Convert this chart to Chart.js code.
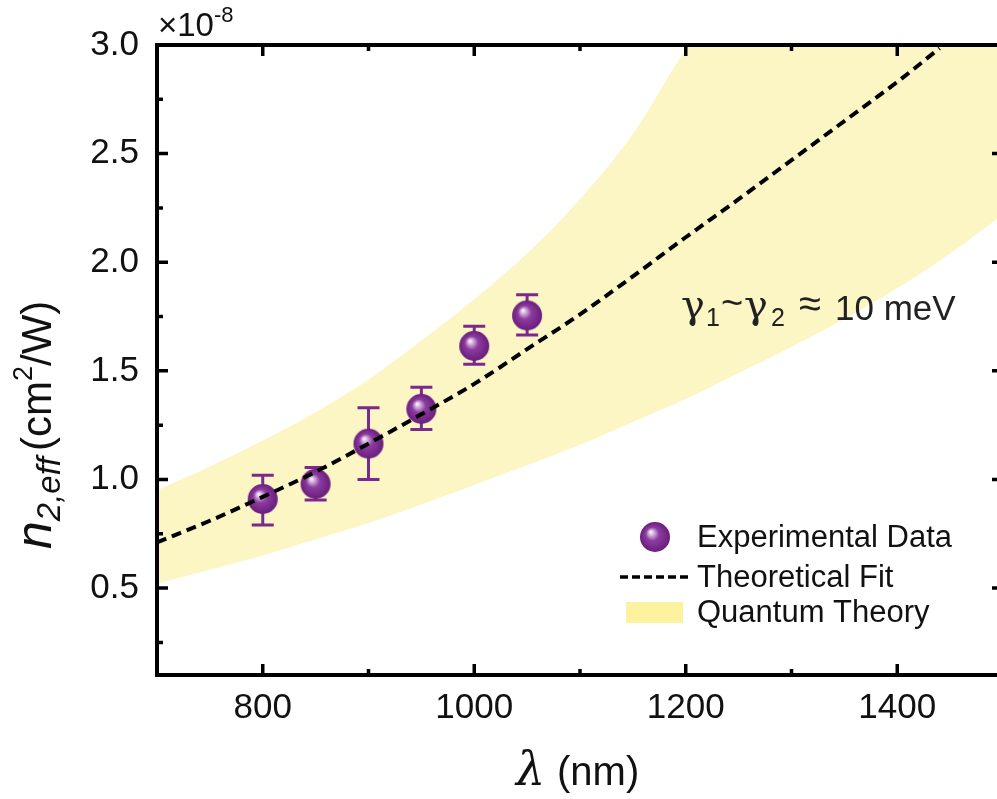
<!DOCTYPE html>
<html>
<head>
<meta charset="utf-8">
<script src="https://cdn.jsdelivr.net/npm/chart.js@4.4.1/dist/chart.umd.min.js"></script>
<style>
  html, body { margin: 0; padding: 0; background: #fff; overflow: hidden; }
  #wrap { width: 1019px; height: 799px; }
</style>
</head>
<body>
<div id="wrap"><canvas id="n2Chart" width="1019" height="799"></canvas></div>
<script>
// measured points
const wavelengths = [800, 850, 900, 950, 1000, 1050];
const n2Values = [0.91, 0.98, 1.165, 1.325, 1.615, 1.755];
const n2ErrLow = [0.79, 0.905, 1.0, 1.23, 1.53, 1.665];
const n2ErrHigh = [1.02, 1.055, 1.33, 1.425, 1.705, 1.85];

// theoretical fit
const fitX = [700, 750, 800, 850, 900, 950, 1000, 1050, 1100, 1150, 1200, 1250, 1300, 1350, 1400, 1440];
const fitY = [0.71, 0.81, 0.92, 1.035, 1.165, 1.30, 1.44, 1.60, 1.76, 1.935, 2.115, 2.29, 2.47, 2.65, 2.83, 2.985];

// quantum theory band
const bandX = [700, 750, 800, 850, 900, 950, 1000, 1050, 1100, 1150, 1200, 1250, 1300, 1350, 1400, 1450, 1500];
const bandUpper = [0.95, 1.06, 1.18, 1.31, 1.46, 1.64, 1.83, 2.04, 2.29, 2.59, 2.98, 3.3, 3.7, 4.1, 4.55, 5.0, 5.5];
const bandLower = [0.52, 0.585, 0.65, 0.725, 0.80, 0.885, 0.975, 1.065, 1.16, 1.265, 1.37, 1.49, 1.61, 1.74, 1.88, 2.04, 2.22];

const xTicks = [800, 1000, 1200, 1400];
const xMinorTicks = [900, 1100, 1300];
const yTicks = [0.5, 1.0, 1.5, 2.0, 2.5, 3.0];
const yMinorTicks = [0.25, 0.75, 1.25, 1.75, 2.25, 2.75];

const purple = '#7a2a8d';
const bandColor = '#fcf5c4';
const sans = '"Liberation Sans", Arial, sans-serif';
const serif = '"DejaVu Serif", "Liberation Serif", serif';

function makeBall(r) {
    const c = document.createElement('canvas');
    const s = r * 2 + 2;
    c.width = s; c.height = s;
    const g = c.getContext('2d');
    const cx = s / 2, cy = s / 2;
    const grad = g.createRadialGradient(cx - r * 0.3, cy - r * 0.35, 0, cx, cy, r);
    grad.addColorStop(0, '#ffffff');
    grad.addColorStop(0.15, '#dcbfe2');
    grad.addColorStop(0.45, '#8c3c9f');
    grad.addColorStop(1, '#6a1d7d');
    g.fillStyle = grad;
    g.beginPath();
    g.arc(cx, cy, r, 0, Math.PI * 2);
    g.fill();
    return c;
}
const ball = makeBall(15);
const legendBall = makeBall(15);

const toXY = (xs, ys) => xs.map((v, i) => ({ x: v, y: ys[i] }));

const errorBars = {
    id: 'errorBars',
    beforeDatasetDraw(chart, args) {
        if (args.index !== 1) return;
        const { ctx, scales: { x, y } } = chart;
        ctx.save();
        ctx.strokeStyle = purple;
        ctx.lineWidth = 3;
        wavelengths.forEach((w, i) => {
            const px = x.getPixelForValue(w);
            const top = y.getPixelForValue(n2ErrHigh[i]);
            const bot = y.getPixelForValue(n2ErrLow[i]);
            ctx.beginPath();
            ctx.moveTo(px, top); ctx.lineTo(px, bot);
            ctx.moveTo(px - 11, top); ctx.lineTo(px + 11, top);
            ctx.moveTo(px - 11, bot); ctx.lineTo(px + 11, bot);
            ctx.stroke();
        });
        ctx.restore();
    }
};

// text pieces placed one after another, or at a fixed x when given
function drawRuns(ctx, x, y, runs) {
    runs.forEach(r => {
        ctx.font = r.font;
        if (r.at !== undefined) x = r.at;
        x += r.pre || 0;
        ctx.fillText(r.t, x, y + (r.dy || 0));
        x += ctx.measureText(r.t).width;
    });
}

const frameAndText = {
    id: 'frameAndText',
    afterDatasetsDraw(chart) {
        const { ctx, chartArea: a, scales: { x, y } } = chart;
        ctx.save();
        ctx.strokeStyle = '#000';
        ctx.lineWidth = 4;
        ctx.strokeRect(a.left, a.top, a.right - a.left, a.bottom - a.top);

        ctx.lineWidth = 3.5;
        ctx.beginPath();
        const tx = (vals, len) => vals.forEach(v => {
            const px = x.getPixelForValue(v);
            ctx.moveTo(px, a.bottom); ctx.lineTo(px, a.bottom - len);
            ctx.moveTo(px, a.top); ctx.lineTo(px, a.top + len);
        });
        const ty = (vals, len) => vals.forEach(v => {
            const py = y.getPixelForValue(v);
            ctx.moveTo(a.left, py); ctx.lineTo(a.left + len, py);
            ctx.moveTo(a.right, py); ctx.lineTo(a.right - len, py);
        });
        tx(xTicks, 11); tx(xMinorTicks, 6);
        ty(yTicks, 11); ty(yMinorTicks, 6);
        ctx.stroke();
        ctx.restore();
    },
    afterDraw(chart) {
        const { ctx } = chart;
        ctx.save();
        ctx.fillStyle = '#111';
        ctx.textBaseline = 'alphabetic';
        ctx.textAlign = 'left';

        // exponent
        drawRuns(ctx, 158, 36, [
            { t: '\u00d710', font: '33px ' + sans },
            { t: '-8', font: '22px ' + sans, dy: -14 }
        ]);

        // x title
        drawRuns(ctx, 516, 785, [
            { t: '\u03bb', font: 'italic 46px "DejaVu Serif", serif' },
            { t: '(nm)', font: '40px ' + sans, at: 557 }
        ]);

        // y title
        ctx.save();
        ctx.translate(51, 549);
        ctx.rotate(-Math.PI / 2);
        drawRuns(ctx, 0, 0, [
            { t: 'n', font: 'italic 50px ' + sans },
            { t: '2,eff', font: 'italic 33px ' + sans, dy: 9 },
            { t: '(cm', font: '42px ' + sans, pre: 6 },
            { t: '2', font: '27px ' + sans, dy: -19 },
            { t: '/W)', font: '42px ' + sans }
        ]);
        ctx.restore();

        // annotation
        ctx.fillStyle = '#222';
        drawRuns(ctx, 683, 318, [
            { t: '\u03b3', font: '40px ' + serif, at: 681 },
            { t: '1', font: '25px ' + sans, dy: 8, at: 706 },
            { t: '~', font: '38px ' + sans, at: 721, dy: -2 },
            { t: '\u03b3', font: '40px ' + serif, at: 744 },
            { t: '2', font: '25px ' + sans, dy: 8, at: 771 },
            { t: '\u2248', font: '40px ' + sans, at: 799, dy: -1 },
            { t: '10 meV', font: '35px ' + sans, at: 835, dy: 2 }
        ]);

        // legend
        ctx.drawImage(legendBall, 655 - legendBall.width / 2, 537 - legendBall.height / 2);
        ctx.save();
        ctx.strokeStyle = '#000';
        ctx.lineWidth = 3.5;
        ctx.setLineDash([8, 4]);
        ctx.beginPath();
        ctx.moveTo(620, 577); ctx.lineTo(690, 577);
        ctx.stroke();
        ctx.restore();
        ctx.fillStyle = '#fdf29e';
        ctx.fillRect(626, 602, 57, 21);
        ctx.fillStyle = '#111';
        ctx.font = '31px ' + sans;
        ctx.fillText('Experimental Data', 697, 547);
        ctx.fillText('Theoretical Fit', 697, 587);
        ctx.fillText('Quantum Theory', 697, 622);
        ctx.restore();
    }
};

new Chart(document.getElementById('n2Chart'), {
    type: 'scatter',
    data: {
        datasets: [
            {
                label: 'Theoretical Fit',
                data: toXY(fitX, fitY),
                showLine: true,
                borderColor: '#000',
                borderWidth: 4,
                borderDash: [10, 6],
                pointRadius: 0,
                cubicInterpolationMode: 'monotone',
                fill: false
            },
            {
                label: 'Experimental Data',
                data: toXY(wavelengths, n2Values),
                showLine: false,
                pointStyle: ball,
                pointRadius: 15
            },
            {
                label: 'Quantum Theory',
                data: toXY(bandX, bandUpper),
                showLine: true,
                borderWidth: 0,
                borderColor: 'rgba(0,0,0,0)',
                backgroundColor: bandColor,
                pointRadius: 0,
                cubicInterpolationMode: 'monotone',
                fill: '+1'
            },
            {
                label: 'band low',
                data: toXY(bandX, bandLower),
                showLine: true,
                borderWidth: 0,
                borderColor: 'rgba(0,0,0,0)',
                pointRadius: 0,
                cubicInterpolationMode: 'monotone',
                fill: false
            }
        ]
    },
    options: {
        responsive: false,
        animation: false,
        devicePixelRatio: 1,
        layout: { padding: { left: 0, right: 4, top: 45, bottom: 0 } },
        plugins: { legend: { display: false }, tooltip: { enabled: false } },
        scales: {
            x: {
                type: 'linear',
                min: 700,
                max: 1500,
                afterBuildTicks: s => { s.ticks = xTicks.map(v => ({ value: v })); },
                afterFit: s => { s.height = 124; },
                grid: { display: false, drawTicks: false },
                border: { display: false },
                ticks: {
                    font: { family: sans, size: 35 },
                    color: '#111',
                    padding: 12,
                    maxRotation: 0,
                    autoSkip: false,
                    callback: v => String(v)
                }
            },
            y: {
                type: 'linear',
                min: 0.1,
                max: 3.0,
                afterBuildTicks: s => { s.ticks = yTicks.map(v => ({ value: v })); },
                afterFit: s => { s.width = 157; },
                grid: { display: false, drawTicks: false },
                border: { display: false },
                ticks: {
                    font: { family: sans, size: 35 },
                    color: '#111',
                    padding: 18,
                    autoSkip: false,
                    callback: v => v.toFixed(1)
                }
            }
        }
    },
    plugins: [errorBars, frameAndText]
});
</script>
</body>
</html>
